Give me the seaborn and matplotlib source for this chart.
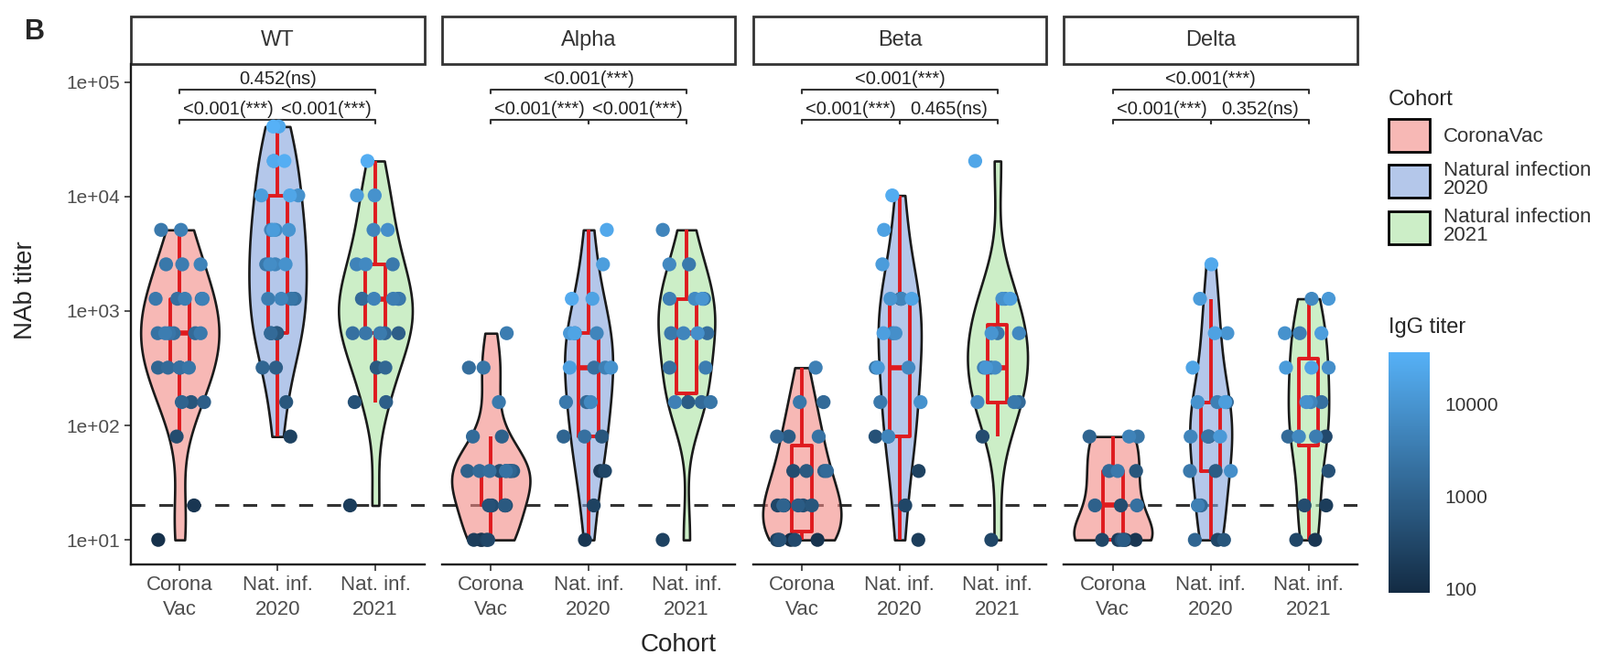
import numpy as np
import pandas as pd
import matplotlib
matplotlib.use("Agg")
import matplotlib.pyplot as plt
import seaborn as sns
from matplotlib.colors import LinearSegmentedColormap, LogNorm
from matplotlib.patches import Patch, Rectangle
from matplotlib.ticker import FixedLocator, FixedFormatter, NullLocator

# categories and labels
variants = ["WT", "Alpha", "Beta", "Delta"]
cohorts = ["CoronaVac", "Natural infection 2020", "Natural infection 2021"]
cohort_labels = ["CoronaVac", "Natural infection\n2020", "Natural infection\n2021"]
x_tick_labels = ["Corona\nVac", "Nat. inf.\n2020", "Nat. inf.\n2021"]
y_ticks = [10, 100, 1000, 10000, 100000]
y_tick_labels = ["1e+01", "1e+02", "1e+03", "1e+04", "1e+05"]
igg_ticks = [100, 1000, 10000]
igg_tick_labels = ["100", "1000", "10000"]
cutoff = 20

# NAb titers and IgG titer of each sample
wt_cv_nab = [10, 20, 80, 160, 160, 160, 320, 320, 320, 320, 320, 640, 640, 640, 640, 640, 640,
             1280, 1280, 1280, 1280, 1280, 2560, 2560, 2560, 5120, 5120]
wt_cv_igg = [120, 150, 400, 600, 900, 1100, 700, 1200, 1500, 2000, 2500, 1500, 1800, 2200, 2600, 3000, 3500,
             2000, 2400, 3000, 3600, 4200, 2800, 3500, 4500, 3000, 4000]
wt_n20_nab = [80, 160, 320, 320, 640, 640, 640, 640, 1280, 1280, 1280, 1280, 2560, 2560, 2560, 2560,
              5120, 5120, 5120, 5120, 10240, 10240, 10240, 20480, 20480, 20480, 40960, 40960]
wt_n20_igg = [250, 600, 900, 1200, 350, 500, 700, 1500, 1800, 2500, 3500, 5000, 3000, 5000, 7000, 9000,
              4500, 7000, 10000, 14000, 9000, 15000, 22000, 18000, 26000, 32000, 25000, 36000]
wt_n21_nab = [20, 160, 160, 320, 320, 640, 640, 640, 640, 640, 1280, 1280, 1280, 1280, 1280,
              2560, 2560, 2560, 5120, 5120, 10240, 10240, 20480]
wt_n21_igg = [200, 500, 900, 700, 1300, 900, 1400, 2000, 2600, 3200, 1500, 2200, 3000, 3800, 4500,
              3000, 4500, 6000, 5000, 8000, 9000, 14000, 30000]

al_cv_nab = [10, 10, 10, 10, 10, 20, 20, 20, 20, 20, 40, 40, 40, 40, 40, 40, 40, 40, 40,
             80, 80, 160, 320, 320, 640]
al_cv_igg = [90, 150, 200, 250, 300, 200, 300, 400, 500, 700, 300, 450, 600, 800, 1000, 1200, 1500, 1800, 2200,
             1000, 1600, 3000, 1800, 2500, 3500]
al_n20_nab = [10, 20, 40, 40, 80, 80, 80, 160, 160, 160, 320, 320, 320, 320, 640, 640, 640, 640,
              1280, 1280, 2560, 5120]
al_n20_igg = [150, 250, 180, 300, 600, 1200, 2000, 1500, 3000, 6000, 2000, 4000, 9000, 16000, 3000, 5000, 12000, 20000,
              18000, 26000, 15000, 24000]
al_n21_nab = [10, 160, 160, 160, 160, 320, 320, 640, 640, 640, 640, 1280, 1280, 1280, 1280, 2560, 2560, 5120]
al_n21_igg = [250, 800, 1500, 2500, 4000, 2000, 3500, 1800, 3000, 5000, 8000, 2500, 4000, 6500, 10000, 3000, 6000, 5000]

be_cv_nab = [10, 10, 10, 10, 10, 10, 20, 20, 20, 20, 20, 20, 40, 40, 40, 40, 80, 80, 80, 160, 160, 320]
be_cv_igg = [100, 130, 180, 250, 350, 500, 200, 300, 450, 600, 800, 1100, 400, 700, 1000, 1500, 800, 1400, 2200,
             1500, 2800, 4000]
be_n20_nab = [10, 20, 40, 80, 80, 80, 160, 160, 320, 320, 320, 640, 640, 640, 1280, 1280, 1280, 1280, 2560, 5120, 10240]
be_n20_igg = [200, 300, 250, 500, 2000, 5000, 3000, 9000, 2500, 6000, 12000, 3500, 8000, 16000, 400, 5000, 10000, 20000,
              14000, 18000, 28000]
be_n21_nab = [10, 80, 160, 160, 160, 320, 320, 320, 320, 640, 640, 640, 1280, 1280, 1280, 20480]
be_n21_igg = [300, 400, 1500, 3000, 6000, 2000, 4000, 7000, 11000, 3000, 6000, 10000, 5000, 9000, 15000, 22000]

de_cv_nab = [10, 10, 10, 10, 10, 10, 20, 20, 20, 40, 40, 40, 80, 80, 80]
de_cv_igg = [100, 150, 200, 300, 500, 800, 400, 1000, 2000, 600, 1500, 3000, 1200, 2500, 4500]
de_n20_nab = [10, 10, 10, 20, 20, 40, 40, 40, 80, 80, 80, 80, 160, 160, 160, 160, 320, 640, 640, 1280, 2560]
de_n20_igg = [300, 600, 1200, 1500, 4000, 800, 3000, 8000, 700, 2500, 5000, 12000, 1500, 4000, 9000, 15000,
              20000, 10000, 18000, 14000, 25000]
de_n21_nab = [10, 10, 20, 20, 40, 80, 80, 80, 80, 160, 160, 160, 320, 320, 320, 640, 640, 640, 1280, 1280]
de_n21_igg = [150, 300, 200, 400, 500, 350, 1500, 3500, 6000, 2000, 5000, 9000, 8000, 14000, 20000,
              4000, 9000, 15000, 6000, 12000]

# p-value labels: CoronaVac vs 2020, 2020 vs 2021, CoronaVac vs 2021
sig_left = ["<0.001(***)", "<0.001(***)", "<0.001(***)", "<0.001(***)"]
sig_right = ["<0.001(***)", "<0.001(***)", "0.465(ns)", "0.352(ns)"]
sig_top = ["0.452(ns)", "<0.001(***)", "<0.001(***)", "<0.001(***)"]

groups = {
    ("WT", cohorts[0]): (wt_cv_nab, wt_cv_igg), ("WT", cohorts[1]): (wt_n20_nab, wt_n20_igg),
    ("WT", cohorts[2]): (wt_n21_nab, wt_n21_igg),
    ("Alpha", cohorts[0]): (al_cv_nab, al_cv_igg), ("Alpha", cohorts[1]): (al_n20_nab, al_n20_igg),
    ("Alpha", cohorts[2]): (al_n21_nab, al_n21_igg),
    ("Beta", cohorts[0]): (be_cv_nab, be_cv_igg), ("Beta", cohorts[1]): (be_n20_nab, be_n20_igg),
    ("Beta", cohorts[2]): (be_n21_nab, be_n21_igg),
    ("Delta", cohorts[0]): (de_cv_nab, de_cv_igg), ("Delta", cohorts[1]): (de_n20_nab, de_n20_igg),
    ("Delta", cohorts[2]): (de_n21_nab, de_n21_igg),
}
rows = []
for (v, c), (nab, igg) in groups.items():
    for a, b in zip(nab, igg):
        rows.append({"variant": v, "cohort": c, "nab": a, "igg": b})
df = pd.DataFrame(rows)

sns.set_theme(style="ticks")
plt.rcParams["font.family"] = ["Liberation Sans", "DejaVu Sans"]

fills = ["#F38985", "#82A3DC", "#AAE3A3"]
fill_alpha = 0.6
box_red = "#DF1A1E"
cmap = LinearSegmentedColormap.from_list("igg", ["#132B43", "#56B1F7"])
norm = LogNorm(vmin=df["igg"].min(), vmax=df["igg"].max())

fig, axes = plt.subplots(1, 4, figsize=(17.48, 7.28), dpi=100, sharey=True)
fig.subplots_adjust(left=0.0818, right=0.8484, bottom=0.1525, top=0.9038, wspace=0.06)

np.random.seed(7)
for i, (ax, v) in enumerate(zip(axes, variants)):
    sub = df[df["variant"] == v]
    sns.stripplot(data=sub, x="cohort", y="nab", order=cohorts, hue="igg", palette=cmap, hue_norm=norm,
                  jitter=0.26, size=11, linewidth=0, legend=False, log_scale=True, ax=ax)
    n_before = len(ax.collections)
    sns.violinplot(data=sub, x="cohort", y="nab", order=cohorts, hue="cohort", hue_order=cohorts,
                   palette=fills, saturation=1, inner=None, cut=0, density_norm="area", common_norm=True,
                   width=0.8, bw_adjust=0.9, linewidth=1.9, linecolor="#1A1A1A", legend=False,
                   log_scale=True, ax=ax)
    for coll in ax.collections[n_before:]:
        fc = coll.get_facecolor()[0]
        coll.set_facecolor((fc[0], fc[1], fc[2], fill_alpha))
    sns.boxplot(data=sub, x="cohort", y="nab", order=cohorts, color=box_red, fill=False, width=0.2,
                showfliers=False, showcaps=False, linewidth=2.8, medianprops={"linewidth": 4},
                log_scale=True, ax=ax)
    ax.axhline(cutoff, color="#333333", lw=2.2, ls=(0, (5, 5)), zorder=0.5)

    # significance brackets
    tick = 10 ** -0.035
    for (x0, x1), lab, yb in [((0, 1), sig_left[i], 47000), ((1, 2), sig_right[i], 47000),
                              ((0, 2), sig_top[i], 86000)]:
        ax.plot([x0, x0, x1, x1], [yb * tick, yb, yb, yb * tick], color="#333333", lw=1.5, clip_on=False)
        ax.text((x0 + x1) / 2, yb * 10 ** 0.015, lab, ha="center", va="bottom", fontsize=14.5, color="#222222")

    ax.set_xlim(-0.5, 2.5)
    ax.set_xlabel("")
    ax.set_ylabel("")
    ax.set_xticks([0, 1, 2])
    ax.set_xticklabels(x_tick_labels, linespacing=1.35)
    ax.tick_params(axis="x", length=5, width=1.2, color="#333333", labelsize=16, labelcolor="#4D4D4D", pad=4)
    sns.despine(ax=ax, left=(i > 0))
    ax.spines["bottom"].set_linewidth(1.7)
    ax.spines["bottom"].set_color("#1A1A1A")
    if i == 0:
        ax.spines["left"].set_linewidth(1.7)
        ax.spines["left"].set_color("#1A1A1A")
    else:
        ax.tick_params(axis="y", left=False, labelleft=False)

    # facet strip
    ax.add_patch(Rectangle((0, 1), 1, 0.095, transform=ax.transAxes, facecolor="white",
                           edgecolor="#333333", linewidth=2, clip_on=False))
    ax.text(0.5, 1.0475, v, transform=ax.transAxes, ha="center", va="center", fontsize=17, color="#333333")

# shared log y axis with ggplot-style labels
ax0 = axes[0]
ax0.set_ylim(6.1, 144000)
ax0.yaxis.set_major_locator(FixedLocator(y_ticks))
ax0.yaxis.set_major_formatter(FixedFormatter(y_tick_labels))
ax0.yaxis.set_minor_locator(NullLocator())
ax0.tick_params(axis="y", length=5, width=1.2, color="#333333", labelsize=15, labelcolor="#4D4D4D")

fig.text(0.016, 0.565, "NAb titer", rotation=90, ha="center", va="center", fontsize=20)
fig.text(0.424, 0.032, "Cohort", ha="center", va="center", fontsize=20)
fig.text(0.022, 0.952, "B", ha="center", va="center", fontsize=22, fontweight="bold")

# cohort legend
handles = []
for c in fills:
    h = Patch(facecolor=c, edgecolor="black", linewidth=2)
    fc = h.get_facecolor()
    h.set_facecolor((fc[0], fc[1], fc[2], fill_alpha))
    handles.append(h)
leg = fig.legend(handles, cohort_labels, title="Cohort", loc="upper left", bbox_to_anchor=(0.8679, 0.865),
                 frameon=False, fontsize=16, title_fontsize=17, handlelength=2.0, handleheight=2.1,
                 handletextpad=0.7, labelspacing=0.45, borderaxespad=0, borderpad=0, alignment="left")
for t in leg.get_texts():
    t.set_linespacing(0.95)
    t.set_color("#333333")

# IgG colour bar
cax = fig.add_axes([1517 / 1748, 1 - 648 / 728, 45 / 1748, 263 / 728])
sm = plt.cm.ScalarMappable(norm=norm, cmap=cmap)
cb = fig.colorbar(sm, cax=cax)
cb.outline.set_visible(False)
cb.set_ticks(igg_ticks)
cb.set_ticklabels(igg_tick_labels)
cax.minorticks_off()
cax.tick_params(axis="y", direction="in", length=7, width=1.2, color="white", labelsize=15,
                labelcolor="#333333", pad=12, left=True)
fig.text(1517 / 1748, 1 - 358 / 728, "IgG titer", ha="left", va="center", fontsize=17)

fig.savefig("out.png", dpi=100)
